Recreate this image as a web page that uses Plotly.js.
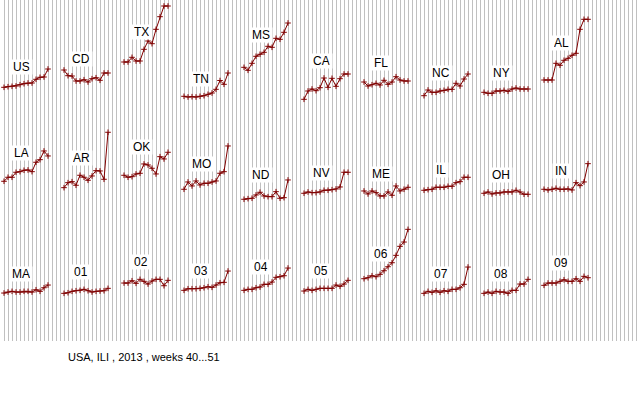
<!DOCTYPE html>
<html>
<head>
<meta charset="utf-8">
<script src="https://cdn.plot.ly/plotly-3.0.1.min.js"></script>
<style>html,body{margin:0;padding:0;background:#fff;}#chart{width:640px;height:400px;}</style>
</head>
<body>
<div id="chart"></div>
<script>
// weeks 40..51 of 2013
const weeks = [40, 41, 42, 43, 44, 45, 46, 47, 48, 49, 50, 51];

// row 1
const row1Names = ['US', 'CD', 'TX', 'TN', 'MS', 'CA', 'FL', 'NC', 'NY', 'AL'];
const US = [2.27, 2.33, 2.37, 2.40, 2.53, 2.63, 2.70, 2.70, 3.07, 3.27, 3.30, 4.10];
const CD = [4.00, 3.43, 3.40, 2.90, 2.90, 3.03, 2.80, 3.13, 3.23, 2.97, 3.70, 3.70];
const TX = [4.80, 4.80, 5.27, 4.90, 4.90, 6.07, 6.90, 6.63, 8.07, 9.33, 10.40, 10.40];
const TN = [1.37, 1.30, 1.33, 1.30, 1.37, 1.43, 1.57, 1.70, 2.07, 2.95, 2.57, 3.70];
const MS = [4.27, 3.97, 4.67, 5.37, 5.57, 5.77, 6.37, 6.27, 7.17, 7.07, 7.77, 8.70];
const CA = [1.07, 1.90, 2.10, 1.93, 2.23, 3.20, 2.27, 3.17, 2.37, 3.13, 3.60, 3.60];
const FL = [2.80, 2.40, 2.53, 2.67, 2.50, 2.97, 2.57, 2.80, 3.33, 3.00, 2.90, 2.90];
const NC = [1.43, 2.00, 1.77, 1.77, 1.90, 1.97, 2.07, 2.07, 2.67, 2.40, 3.10, 3.60];
const NY = [1.77, 1.67, 1.67, 1.90, 1.90, 1.97, 1.87, 2.10, 2.20, 2.10, 2.10, 2.10];
const AL = [3.00, 3.00, 3.00, 4.67, 4.47, 4.97, 5.17, 5.47, 5.67, 8.07, 9.07, 9.07];

// row 2
const row2Names = ['LA', 'AR', 'OK', 'MO', 'ND', 'NV', 'ME', 'IL', 'OH', 'IN'];
const LA = [4.24, 4.64, 4.64, 5.14, 5.20, 5.34, 5.37, 5.20, 6.14, 6.40, 7.27, 6.77];
const AR = [3.60, 4.10, 4.20, 3.84, 4.84, 4.64, 4.34, 4.77, 5.30, 5.27, 4.44, 9.14];
const OK = [4.84, 4.64, 4.70, 4.97, 5.04, 5.97, 5.87, 5.54, 4.97, 6.70, 6.47, 7.14];
const MO = [3.44, 4.17, 3.77, 4.27, 3.87, 4.04, 4.04, 4.17, 4.27, 5.04, 5.20, 7.77];
const ND = [2.44, 2.50, 2.54, 2.87, 3.14, 2.77, 2.70, 2.70, 3.20, 2.54, 2.60, 4.37];
const NV = [3.04, 3.17, 3.10, 3.10, 3.17, 3.34, 3.34, 3.40, 3.47, 3.67, 5.14, 5.14];
const ME = [3.27, 2.97, 3.27, 3.10, 2.77, 2.77, 3.17, 2.84, 3.77, 3.27, 3.44, 3.64];
const IL = [3.34, 3.40, 3.44, 3.64, 3.64, 3.64, 3.74, 3.74, 4.10, 4.20, 4.64, 4.64];
const OH = [3.04, 3.17, 2.97, 3.07, 3.07, 3.17, 3.17, 3.17, 3.34, 3.17, 2.94, 2.94];
const IN = [3.44, 3.37, 3.44, 3.54, 3.44, 3.44, 3.47, 3.37, 4.10, 3.80, 4.17, 6.00];

// row 3
const row3Names = ['MA', '01', '02', '03', '04', '05', '06', '07', '08', '09'];
const MA  = [4.43, 4.53, 4.60, 4.53, 4.53, 4.60, 4.60, 4.53, 4.76, 4.60, 4.96, 5.23];
const R01 = [4.40, 4.46, 4.60, 4.66, 4.70, 4.80, 4.66, 4.53, 4.60, 4.63, 4.66, 4.90];
const R02 = [5.43, 5.43, 5.66, 5.40, 5.80, 5.60, 5.33, 5.63, 5.80, 5.80, 5.16, 5.70];
const R03 = [4.70, 4.86, 4.86, 4.86, 4.90, 4.96, 5.06, 5.00, 5.23, 5.46, 5.50, 6.63];
const R04 = [4.70, 4.80, 4.80, 4.96, 5.03, 5.30, 5.30, 5.53, 6.00, 6.06, 6.16, 6.93];
const R05 = [4.63, 4.80, 4.70, 4.80, 4.90, 4.90, 4.90, 4.90, 5.23, 5.10, 5.33, 5.70];
const R06 = [5.86, 5.96, 6.16, 6.06, 6.30, 6.66, 7.06, 7.46, 8.20, 9.10, 9.53, 10.80];
const R07 = [4.40, 4.60, 4.50, 4.66, 4.50, 4.66, 4.60, 4.80, 4.80, 4.96, 5.30, 7.03];
const R08 = [4.40, 4.53, 4.40, 4.60, 4.53, 4.53, 4.40, 4.70, 4.70, 5.33, 5.33, 5.80];
const R09 = [5.20, 5.43, 5.43, 5.43, 5.60, 5.76, 5.60, 5.60, 5.86, 5.60, 6.10, 5.96];

const caption = 'USA, ILI , 2013 , weeks 40...51';

const rows = [
  {names: row1Names, series: [US, CD, TX, TN, MS, CA, FL, NC, NY, AL], axis: 'y'},
  {names: row2Names, series: [LA, AR, OK, MO, ND, NV, ME, IL, OH, IN], axis: 'y2'},
  {names: row3Names, series: [MA, R01, R02, R03, R04, R05, R06, R07, R08, R09], axis: 'y3'}
];

// each panel occupies 15 week-slots on a common slot axis
const slotsPerPanel = 15;
const FONT = 'Liberation Sans, Arial, sans-serif';

const traces = [];
const annotations = [];
rows.forEach(row => {
  row.series.forEach((vals, c) => {
    const start = slotsPerPanel * c + 1;
    traces.push({
      type: 'scatter',
      mode: 'lines+markers',
      x: weeks.map(w => start + (w - weeks[0])),
      y: vals,
      xaxis: 'x',
      yaxis: row.axis,
      cliponaxis: false,
      hoverinfo: 'skip',
      line: {color: '#800000', width: 1},
      marker: {symbol: 'cross-thin-open', size: 4, line: {color: '#200000', width: 1}}
    });
    annotations.push({
      text: row.names[c],
      x: start + 4.25,
      xref: 'x',
      y: Math.max(...vals.slice(1, 6)),
      yref: row.axis,
      xanchor: 'center',
      yanchor: 'bottom',
      yshift: 9,
      showarrow: false,
      bgcolor: '#ffffff',
      borderpad: 2,
      height: 10,
      font: {family: FONT, size: 12, color: '#000000'}
    });
  });
});

annotations.push({
  text: caption,
  xref: 'paper', yref: 'paper',
  x: 66 / 640, y: -16 / 341,
  xanchor: 'left', yanchor: 'middle',
  showarrow: false,
  font: {family: FONT, size: 11, color: '#000000'}
});

const yBase = {range: [-0.3667, 11], showgrid: false, zeroline: false, showticklabels: false, ticks: '', showline: false, anchor: 'x', fixedrange: true};

const layout = {
  width: 640, height: 400,
  margin: {l: 0, r: 0, t: 0, b: 59, pad: 0},
  paper_bgcolor: '#ffffff',
  plot_bgcolor: '#ffffff',
  showlegend: false,
  font: {family: FONT, size: 11, color: '#000'},
  xaxis: {range: [0, 160], tick0: 0, dtick: 1, showgrid: true, gridcolor: '#c0c0c0', gridwidth: 1,
          zeroline: false, showticklabels: false, ticks: '', showline: false, fixedrange: true},
  yaxis: Object.assign({domain: [2 / 3, 1]}, yBase),
  yaxis2: Object.assign({domain: [1 / 3, 2 / 3]}, yBase),
  yaxis3: Object.assign({domain: [0, 1 / 3]}, yBase),
  annotations: annotations
};

Plotly.newPlot('chart', traces, layout, {staticPlot: true, displayModeBar: false});
</script>
</body>
</html>
